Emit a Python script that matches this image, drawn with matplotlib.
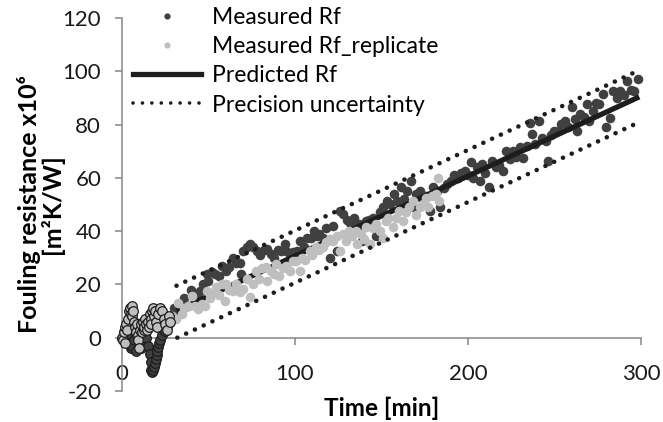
"""Fouling resistance over time: measured, replicate and predicted Rf."""

import matplotlib
matplotlib.use("Agg")
import matplotlib.pyplot as plt
from matplotlib.lines import Line2D

plt.rcParams["font.family"] = ["Lato", "DejaVu Sans"]
plt.rcParams["axes.unicode_minus"] = False

# start-up period (first ~25 min), drawn with outlined markers
early_rf_t = [0, 1, 2, 3, 4, 5, 6, 7, 8, 9, 10, 11, 12, 13, 14, 15, 16,
              16.5, 17, 17.5, 18, 18.5, 19, 19.5, 20, 20.5, 21, 21.5, 22,
              23, 24, 25, 26]
early_rf = [0, 2, -1, 1, -2, -4, -3, -1, -5, 0,
            -2, -4, 1, -1, 0, -3, -6, -9, -12, -13,
            -12, -11, -9.5, -8, -6.5, -5, -3.5, -2, -1, 1,
            3, 2.5, 4.5]

early_rep_t = [0, 0.5, 1, 1.5, 2, 2.5, 3, 3.5, 4, 4.5, 5, 5.5, 6, 6.5, 7,
               7.5, 8, 8.5, 9, 9.5, 10, 10.5, 11, 11.5, 12, 12.5, 13, 13.5,
               14, 14.5, 15, 15.5, 16, 16.5, 17, 17.5, 18, 18.5, 19, 19.5,
               20, 21, 22, 23, 24, 25, 26, 27, 28]
early_rep = [0, -1, 2, 4, -2, 5, 3, 7, 10, 11,
             9, 12, 8, 10, 6, 4, 2, 5, 1, -1,
             -4, 3, 5, 2, 6, 3, 4, 7, 5, 3,
             6, 4, 9, 7, 5, 10, 11, 8, 10, 6,
             4, 9, 11, 10, 7, 5, 3, 8, 6]

# measured Rf after start-up
rf_t = [27, 28, 30, 32, 34, 36, 38, 40, 42, 44,
        45, 47, 49, 50, 52, 54, 56, 58, 60, 62,
        64, 66, 68, 69, 70, 72, 74, 76, 78, 80,
        82, 84, 86, 88, 90, 92, 94, 95, 97, 99,
        101, 103, 105, 107, 109, 111, 113, 114, 116, 118,
        120, 122, 124, 126, 128, 130, 132, 134, 136, 137,
        139, 141, 143, 145, 147, 149, 151, 153, 155, 157,
        159, 161, 163, 165, 167, 168, 170, 172, 174, 176,
        178, 180, 182, 184, 186, 188, 190, 192, 194, 196,
        198, 200, 202, 203, 205, 207, 208, 210, 212, 214,
        216, 218, 220, 222, 224, 226, 228, 230, 232, 234,
        236, 237, 239, 241, 243, 245, 246, 248, 250, 252,
        254, 256, 258, 260, 262, 263, 265, 267, 269, 270,
        272, 274, 276, 278, 280, 282, 284, 286, 288, 290,
        292, 294, 296, 298]
rf = [6, 8, 11, 9, 13, 15, 12, 18, 16, 14.5,
      17.6, 20, 24, 21.4, 24.5, 24, 23, 27, 25, 26.4,
      30, 28, 28, 24, 32.6, 34, 35, 34, 32.6, 31,
      33, 33.3, 31.4, 30, 33, 32.6, 35, 32.6, 30, 32,
      32.6, 36.4, 34, 37.6, 37.6, 40, 38, 38.9, 37.6, 41,
      30, 42, 32.6, 47.6, 46.4, 44, 43, 45, 41, 42.6,
      36.4, 43.9, 44, 45, 38, 47, 48.9, 51.4, 50, 53.9,
      51.4, 56.4, 52, 55, 58.9, 48.9, 54, 55, 52, 53,
      47.6, 56.4, 55, 48.9, 56, 57.6, 59, 61, 60, 62,
      62.6, 61, 66, 60, 63.9, 59, 65.1, 62, 56.4, 66.4,
      64, 65, 62.6, 70.1, 67, 70, 68, 71.4, 67.6, 72,
      80.7, 76.4, 72.6, 81.4, 75, 73.9, 66.4, 76, 77.6, 77.6,
      80.1, 81.4, 79, 86.4, 82, 77.6, 84, 83, 87.6, 81.4,
      85, 88, 87.6, 91.4, 78.9, 82.6, 92.6, 90, 92.6, 91,
      96.4, 93, 92.6, 97]

# replicate run after start-up
rep_t = [27, 29, 31, 32.5, 34.4, 36, 38.3, 40.2, 42, 44,
         46, 47.9, 49, 51, 53.7, 54.6, 56, 58, 59.4, 60.4,
         62, 64.2, 66, 68, 70, 72, 73.9, 75.8, 77.7, 79,
         81, 83.5, 84, 86, 88, 89.2, 91, 93, 95, 97,
         99, 100.8, 102.7, 104, 106, 108.5, 110, 112, 114, 116.2,
         118, 120, 122, 124, 125.8, 127.7, 129.6, 131, 133, 135.4,
         136, 138, 140, 141.2, 143.1, 145, 147, 149, 150.8, 152.7,
         154, 156.5, 158.5, 160.4, 162.3, 164, 166, 168.1, 170, 172,
         174, 175.8, 177, 179, 181.6, 182.5, 183.5]
rep = [5, 8, 7, 13.2, 8.9, 11, 12, 15.7, 12, 10.8,
       12.6, 12, 17.6, 15, 17, 18.9, 16, 20, 13.9, 20.1,
       18, 17.6, 20, 17, 18.3, 22, 15.1, 20.1, 25.1, 22,
       26, 26.4, 21.4, 25, 24, 27.6, 23, 26, 27, 25,
       28.9, 28.9, 25.1, 30, 29, 32.6, 31, 34, 33, 33.9,
       36, 37, 36.4, 38, 32.6, 38.9, 36.4, 40, 38, 40.1,
       35.1, 39, 37, 41.4, 35.1, 41, 42.6, 40, 37.6, 43.9,
       45.1, 41.4, 45.1, 47.6, 43.9, 47, 49, 51.4, 46, 48.9,
       50, 52.6, 49, 53, 53.9, 60.1, 51.4]

# model prediction and its precision band
pred_t = [31.5, 299]
pred_rf = [10.1, 90.4]
upper_t = [31.5, 296]
upper_rf = [19.5, 99.5]
lower_t = [32, 296]
lower_rf = [0, 80]

DARK = "#404040"
LIGHT = "#bfbfbf"
INK = "#1e1c1d"
AXIS = "#868686"

fig = plt.figure(figsize=(6.63, 4.22), dpi=100)
ax = fig.add_axes([0.184, 0.0735, 0.7828, 0.8839])

ax.scatter(rf_t, rf, s=48, color=DARK, linewidths=0, zorder=2, clip_on=False)
ax.plot(pred_t, pred_rf, color=INK, lw=3.8, solid_capstyle="butt", zorder=3)
ax.scatter(rep_t, rep, s=48, color=LIGHT, linewidths=0, zorder=4, clip_on=False)
ax.scatter(early_rf_t, early_rf, s=48, facecolor=DARK, edgecolor=INK,
           linewidths=0.9, zorder=5, clip_on=False)
ax.scatter(early_rep_t, early_rep, s=48, facecolor=LIGHT, edgecolor=INK,
           linewidths=0.9, zorder=6, clip_on=False)
dots = dict(color=INK, lw=3.3, linestyle=(0, (0.01, 2.1)),
            dash_capstyle="round", zorder=7)
ax.plot(upper_t, upper_rf, **dots)
ax.plot(lower_t, lower_rf, **dots)

ax.set_xlim(0, 300)
ax.set_ylim(-20, 120)
ax.set_xticks([0, 100, 200, 300])
ax.set_yticks(range(-20, 121, 20))
for side in ("top", "right"):
    ax.spines[side].set_visible(False)
ax.spines["bottom"].set_position(("data", 0))
for side in ("left", "bottom"):
    ax.spines[side].set_color(AXIS)
    ax.spines[side].set_linewidth(1.1)
ax.tick_params(axis="both", direction="out", length=5, width=1.1,
               color=AXIS, labelsize=16, labelcolor="#1a1a1a")
ax.tick_params(axis="y", pad=10)
ax.tick_params(axis="x", pad=14)

ax.set_xlabel("Time [min]", fontsize=17.5, fontweight="bold")
ax.xaxis.set_label_coords(0.5, -0.014)
ax.set_ylabel("Fouling resistance x10\u2076\n[m\u00b2K/W]", fontsize=18,
              fontweight="bold", linespacing=0.95)
ax.yaxis.set_label_coords(-0.112, 0.5)

handles = [
    Line2D([], [], marker="o", ls="none", ms=4.5, color=DARK, mew=0),
    Line2D([], [], marker="o", ls="none", ms=4.5, color=LIGHT, mew=0),
    Line2D([], [], color=INK, lw=3.8),
    Line2D([], [], color=INK, lw=2.6, linestyle=(0, (0.01, 2.6)),
           dash_capstyle="round"),
]
labels = ["Measured Rf", "Measured Rf_replicate", "Predicted Rf",
          "Precision uncertainty"]
ax.legend(handles, labels, loc="upper left", bbox_to_anchor=(0.2, 0.984),
          bbox_transform=fig.transFigure, frameon=False, fontsize=16.5,
          handlelength=3.0, handletextpad=0.45, labelspacing=0.36,
          borderaxespad=0, borderpad=0)

fig.savefig("out.png", dpi=100)
